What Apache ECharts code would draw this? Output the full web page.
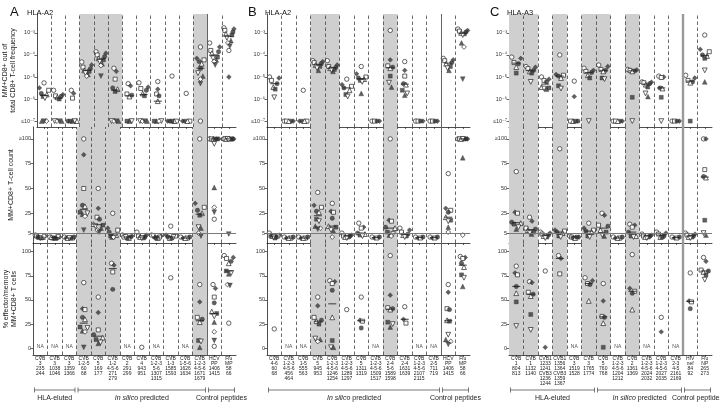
<!DOCTYPE html>
<html><head><meta charset="utf-8">
<script src="https://cdn.jsdelivr.net/npm/echarts@6/dist/echarts.min.js"></script>
<style>html,body{margin:0;padding:0;background:#fff}#c{width:720px;height:404px}</style>
</head><body><div id="c"></div>
<script>
// ---------------- DATA ----------------
const labelsA = ['CVB\n3\n235\n244','CVB\n3\n1038\n1046','CVB\n3\n1359\n1366','CVB\n1-2-5\n60\n68','CVB\n5\n169\n177','CVB\n1-2\n4-5-6\n271\n279','CVB\n2\n291\n299','CVB\n4\n943\n951','CVB\n1-2-3\n5-6\n1307\n1315','CVB\n1-3\n1585\n1593','CVB\n1-5-6\n1626\n1634','CVB\n1-2-3\n4-5-6\n1671\n1679','HCV\nPP\n1406\n1415','Flu\nMP\n58\n66'];
const labelsB = ['CVB\n4-6\n60\n68','CVB\n1-2-3\n4-5-6\n456\n464','CVB\n1-5\n555\n563','CVB\n5\n945\n953','CVB\n1-2-3\n4-5-6\n1246\n1254','CVB\n1-2-3\n4-5-6\n1289\n1297','CVB\n5\n1311\n1319','CVB\n1-2-3\n4-5-6\n1509\n1517','CVB\n2-4\n5-6\n1589\n1598','CVB\n2-4\n1631\n1639','CVB\n1-2-3\n4-5-6\n2107\n2115','CVB\n2-5\n711\n719','HCV\nPP\n1406\n1415','Flu\nMP\n58\n66'];
const labelsC = ['CVB\n1\n804\n813','CVB\n1\n1132\n1140','CVB1\n1233\n1241\nCVB3\n1236\n1244','CVB1\n1356\n1364\nCVB3\n1359\n1367','CVB\n3\n1519\n1528','CVB\n3\n1765\n1774','CVB\n5\n760\n768','CVB\n1-2-3\n4-5-6\n1204\n1212','CVB\n2\n1361\n1369','CVB\n1-2-3\n4-5-6\n2024\n2032','CVB\n1-2-3\n4-5-6\n2027\n2035','CVB\n2-3\n4-5\n2161\n2169','HIV\nnef\n84\n92','Flu\nNP\n265\n273'];

const shadedA = [3,4,5,11];
const shadedB = [3,4,8];
const shadedC = [0,1,3,5,6,8];

const groupsA = [{from:0,to:3,text:'HLA-eluted'},{from:3,to:12,text:'{i|In silico} predicted'},{from:12,to:14,text:'Control peptides'}];
const groupsB = [{from:0,to:12,text:'{i|In silico} predicted'},{from:12,to:14,text:'Control peptides'}];
const groupsC = [{from:0,to:6,text:'HLA-eluted'},{from:6,to:12,text:'{i|In silico} predicted'},{from:12,to:14,text:'Control peptides'}];

// frequency (MM+CD8+ of total CD8+), values <=1e-7 plotted at 1e-7
const freqA = [
 [5.4e-6,3.2e-6,2.5e-6,1.8e-6,1.6e-6,1.3e-6,1.1e-6,1e-7,1e-7,1e-7],
 [2.5e-6,1.6e-6,1.4e-6,1.3e-6,1.2e-6,1.0e-6,1e-7,1e-7,1e-7,1e-7],
 [2.5e-6,1.8e-6,1.1e-6,1e-7,1e-7,1e-7,1e-7,1e-7],
 [4.8e-5,3.5e-5,2.8e-5,2.4e-5,2e-5,1.8e-5,1.5e-5,1.3e-5,1.1e-5],
 [1.4e-4,1.2e-4,1e-4,8.5e-5,7e-5,6e-5,5e-5,4e-5,3.3e-5,1.1e-5],
 [2.5e-5,1.8e-5,8e-6,3.2e-6,2.8e-6,2.2e-6,1e-7,1e-7,1e-7,1e-7],
 [5e-6,4e-6,1.7e-6,1.5e-6,1.3e-6,1e-7,1e-7,1e-7],
 [5.5e-6,3.5e-6,3e-6,2.5e-6,1.8e-6,1.4e-6,1e-7,1e-7,1e-7,1e-7],
 [6.2e-6,2.8e-6,1.7e-6,1.4e-6,8e-7,1e-7,1e-7,1e-7,1e-7],
 [1.1e-5,1e-7,1e-7,1e-7,1e-7,1e-7],
 [1.8e-6,1e-7,1e-7,1e-7,1e-7],
 [2.3e-4,7e-5,6e-5,5e-5,4e-5,2.5e-5,1.5e-5,1.1e-5,8e-6,5e-6,1e-7],
 [3.5e-4,2.3e-4,1.6e-4,1.4e-4,1.2e-4,8e-5,7e-5,6e-5,5e-5,3.5e-5],
 [1.7e-3,1.5e-3,1.3e-3,1.1e-3,9e-4,8e-4,6e-4,4.5e-4,3.5e-4,2.5e-4,1.6e-4,1e-5]
];
const countA = [
 [3,2,2,1,1,0,0,1,2],
 [1,1,0,0,1,0,1,0],
 [1,0,0,1,0,0,0],
 [100,84,50,33,32,26,25,24,22,8],
 [50,30,21,19,14,13,12,10,8,6],
 [25,10,8,6,3,2,2,1,1],
 [3,2,1,1,0,0,1],
 [6,3,2,1,1,0,0],
 [3,2,1,1,0,0,2],
 [12,3,2,1,0,0,1],
 [1,0,0,1,0],
 [100,35,31,28,25,23,11,10,5,2],
 [100,100,100,100,100,100,95,51,31,26,19],
 [100,100,100,100,100,100,100,100,100,4]
];
const effA = [
 [],[],[],
 [68,41,40,32,30,22,21,18,17,1],
 [53,37,19,14,11,9,6,5],
 [88,86,79,61],
 [],
 [1],
 [],
 [73],
 [],
 [66,48,32,30,27,8,7,1],
 [66,62,53,47,38,36,33,27,17,8,2],
 [96,94,93,90,88,80,78,77,66,65,26]
];

const freqB = [
 [1e-5,9e-6,7e-6,5e-6,3.5e-6,2.8e-6,1.2e-6],
 [1e-7,1e-7,1e-7,1e-7,1e-7],
 [2.5e-6,1e-7,1e-7,1e-7,1e-7],
 [5.5e-5,5e-5,4.5e-5,4e-5,3.5e-5,3e-5,2.5e-5,2e-5],
 [5.5e-5,3.5e-5,3e-5,2.7e-5,2.5e-5,2.2e-5,2e-5,1.8e-5],
 [8e-6,4.5e-6,3.8e-6,3.2e-6,2.5e-6,1.6e-6,1.3e-6],
 [3e-5,1.4e-5,1e-5,9e-6,8e-6,7e-6,6e-6,1.8e-6],
 [1e-7,1e-7,1e-7,1e-7],
 [1.3e-3,6e-5,3.2e-5,2.8e-5,2.5e-5,1.1e-5,5.5e-6,3.5e-6],
 [5e-5,2e-5,1.1e-5,5e-6,4.5e-6,2.5e-6,1.8e-6,1.5e-6],
 [1e-7,1e-7,1e-7,1e-7],
 [1e-7,1e-7,1e-7,1e-7],
 [7e-5,6e-5,5.5e-5,4.5e-5,4e-5,3e-5,2.5e-5,2e-5],
 [1.5e-3,1.3e-3,1.2e-3,1.1e-3,1e-3,9e-4,8e-4,3.5e-4,2.3e-4,8e-6]
];
const countB = [
 [5,3,2,1,2,0,1,3],
 [1,0,0,1,0],
 [1,0,0,1,0],
 [46,33,31,27,26,19,17,12,10,9],
 [35,27,26,20,12,11,8,7,1],
 [5,3,2,2,1,1,0],
 [15,11,10,5,4,3,2],
 [1,0,0,1],
 [100,18,17,11,10,6,4,3,2],
 [10,8,6,4,3,2,1],
 [1,0,0,1],
 [1,0,0,1],
 [65,30,28,26,21,18,17,11,6],
 [100,100,100,100,100,100,100,81,3]
];
const effB = [
 [20],[],[],
 [53,44,32,29,28,25,10,9,7],
 [70,69,67,60,32,8,1,1],
 [40],
 [53,29,28,21],
 [],
 [96,55,42,41,40,27,25,22],
 [43,30,26],
 [],[],
 [66,58,41,40,29,28,14,9,7,4],
 [95,94,93,88,84,76,73,64]
];

const freqC = [
 [8e-5,7e-5,4.5e-5,4e-5,2.8e-5,1.5e-5],
 [3e-5,2.8e-5,2.4e-5,2e-5,1.8e-5,1.5e-5,6e-6],
 [1e-5,8e-6,7e-6,6e-6,3.5e-6,3.2e-6,3e-6,2.8e-6],
 [1e-4,1.3e-5,1.2e-5,1.1e-5,9e-6,4e-6,3e-6],
 [6.5e-6,1.3e-6,1e-7,1e-7,1e-7,1e-7],
 [2.5e-5,2e-5,1.8e-5,1.6e-5,1.2e-5,9e-6,1e-7],
 [3.5e-5,3e-5,2.2e-5,2e-5,1.8e-5,9e-6,8e-6],
 [1e-7,1e-7,1e-7,1e-7,1e-7],
 [2.2e-5,2.1e-5,2e-5,1.9e-5,1.8e-5,1.2e-6,1e-7],
 [6e-6,5.8e-6,5.5e-6,5e-6,4.5e-6,3.5e-6,1.8e-6,1.3e-6],
 [1.1e-5,1e-5,9.5e-6,3.2e-6,3e-6,1.2e-6,1e-7],
 [1e-7,1e-7,1e-7,1e-7],
 [1.2e-5,9e-6,7e-6,6e-6,5.5e-6,1e-7],
 [8e-4,1.8e-4,1.4e-4,1e-4,9e-5,7e-5,2e-5,6e-6]
];
const countC = [
 [67,26,25,16,15,14,11,9],
 [21,17,10,9,8,6,5,4],
 [6,5,4,3,2,1,0],
 [90,8,7,6,5,2,1],
 [2,1,1,0,0,1],
 [15,10,8,7,6,2,1],
 [25,23,13,12,8,6,3,2],
 [1,0,0,1,0],
 [14,13,11,6,2,2,1],
 [4,3,2,2,1,1,0],
 [6,5,4,2,1,1],
 [1,0,0,1],
 [5,4,3,2,1,1,0],
 [100,100,69,62,61,18,5,3]
];
const effC = [
 [85,78,76,64,57,48,23],
 [69,68,58,56,54,35,19],
 [80,1],
 [96,93,77],
 [],
 [73,70,67,66,49],
 [67,49,33,32,26,1],
 [],
 [97,62,59,57,40],
 [],
 [32,17],
 [],
 [78,49,48,41],
 [94,90,81,80,79,76,71]
];

const freqTicks = [1e-7,1e-6,1e-5,1e-4,1e-3];
const countTicks = [0,5,25,50,75,100];
const effTicks = [0,25,50,75,100];
const rowNames = ['MM+CD8+ out of\ntotal CD8+ T-cell frequency','MM+CD8+ T-cell count','% effector/memory\nMM+CD8+ T cells'];

// ---------------- LAYOUT / STYLE ----------------
const FONT = '"Liberation Sans", Arial, "DejaVu Sans", sans-serif';
const NCOL = 14, W = 203;
const ROWS = [{top:14,h:113},{top:127,h:116},{top:243,h:112}];
const panels = [
 {letter:'A', hla:'HLA-A2', tx:5, left:33, labels:labelsA, shaded:shadedA, groups:groupsA, rows:[freqA,countA,effA]},
 {letter:'B', hla:'HLA-A2', tx:243, left:267, labels:labelsB, shaded:shadedB, groups:groupsB, rows:[freqB,countB,effB]},
 {letter:'C', hla:'HLA-A3', tx:485, left:509, labels:labelsC, shaded:shadedC, groups:groupsC, rows:[freqC,countC,effC]}
];
const INV = 'path://M0,0L10,0L5,9Z';
const SYMS = [
 {symbol:'circle', fill:false, size:4.4},
 {symbol:'diamond', fill:true, size:4.8},
 {symbol:'rect', fill:false, size:4},
 {symbol:'circle', fill:true, size:4.4},
 {symbol:'triangle', fill:false, size:4.8},
 {symbol:'rect', fill:true, size:4},
 {symbol:INV, fill:false, size:4.8},
 {symbol:'triangle', fill:true, size:4.8},
 {symbol:'diamond', fill:false, size:4.8},
 {symbol:INV, fill:true, size:4.8}
];
const SUP = {'-':'⁻','0':'⁰','1':'¹','2':'²','3':'³','4':'⁴','5':'⁵','6':'⁶','7':'⁷','8':'⁸','9':'⁹'};
function pow10Label(v){
  const e = Math.round(Math.log10(v));
  return (e===-7?'≤':'') + '10' + String(e).split('').map(c=>SUP[c]).join('');
}
function median(a){const s=[...a].sort((x,y)=>x-y);const n=s.length;return n%2?s[(n-1)/2]:(s[n/2-1]+s[n/2])/2;}
function placeColumn(vals, keyFn){
  const items = vals.map((v,k)=>({v,k})).sort((a,b)=>b.v-a.v);
  const res=[]; let i=0;
  while(i<items.length){
    let j=i+1;
    while(j<items.length && keyFn(items[j-1].v)-keyFn(items[j].v)<1) j++;
    const m=j-i, w=Math.min(0.17,0.78/m);
    const order=[]; let lo=0, hi=m-1;
    while(lo<=hi){order.push(lo++); if(lo<=hi) order.push(hi--);}
    for(let q=0;q<m;q++) res.push({v:items[i+q].v,k:items[i+q].k,dx:(order[q]-(m-1)/2)*w});
    i=j;
  }
  return res;
}

const grids=[], xAxes=[], yAxes=[], series=[], titles=[];
const centers = Array.from({length:NCOL},(_,i)=>i+0.5);

panels.forEach((P,p)=>{
  titles.push({text:P.letter,left:P.tx,top:1,textStyle:{fontSize:13,fontWeight:'normal',fontFamily:FONT,color:'#111'}});
  titles.push({text:P.hla,left:P.tx+17,top:4,textStyle:{fontSize:7.5,fontWeight:'normal',fontFamily:FONT,color:'#111'}});
  ROWS.forEach((R,r)=>{
    const g = p*3+r;
    grids.push({left:P.left,top:R.top,width:W,height:R.h});
    xAxes.push({
      type:'value', gridIndex:g, min:0, max:NCOL,
      axisLine:{show:true,onZero:false,lineStyle:{color:'#222',width:0.8}},
      axisTick:{show:true,length:2,customValues:centers,lineStyle:{color:'#222',width:0.7}},
      splitLine:{show:false},
      axisLabel: r===2 ? {show:true,customValues:centers,formatter:v=>P.labels[Math.floor(v)],fontSize:5,lineHeight:5,margin:1,color:'#222',fontFamily:FONT} : {show:false}
    });
    const ya = {
      gridIndex:g,
      axisLine:{show:true,onZero:false,lineStyle:{color:'#222',width:0.8}},
      splitLine:{show:false},
      nameTextStyle:{fontSize:7,fontFamily:FONT,color:'#222',lineHeight:8}
    };
    const lab = {fontSize:5.5,margin:2,color:'#333',fontFamily:FONT};
    if(r===0){
      Object.assign(ya,{type:'log',logBase:10,min:5.4e-8,max:7.2e-3,
        axisTick:{show:true,length:2.5,customValues:freqTicks,lineStyle:{color:'#222',width:0.7}},
        axisLabel:Object.assign({customValues:freqTicks,formatter:pow10Label},lab)});
    } else if(r===1){
      Object.assign(ya,{type:'value',min:-5,max:112,
        axisTick:{show:true,length:2.5,customValues:countTicks,lineStyle:{color:'#222',width:0.7}},
        axisLabel:Object.assign({customValues:countTicks,formatter:v=>v===100?'≥100':String(v)},lab)});
    } else {
      Object.assign(ya,{type:'value',min:-7,max:109,
        axisTick:{show:true,length:2.5,customValues:effTicks,lineStyle:{color:'#222',width:0.7}},
        axisLabel:Object.assign({customValues:effTicks},lab)});
    }
    if(p===0){ Object.assign(ya,{name:rowNames[r],nameLocation:'middle',nameRotate:90,nameGap:r===1?13:9}); }
    yAxes.push(ya);

    // shading
    series.push({type:'scatter',xAxisIndex:g,yAxisIndex:g,data:[],z:1,silent:true,
      markArea:{silent:true,itemStyle:{color:'#cfcfcf'},data:P.shaded.map(i=>[{xAxis:i},{xAxis:i+1}])}});
    // separators + thresholds
    const ml = [];
    for(let b=1;b<NCOL;b++){
      let ls;
      if(b===12) ls = p===2 ? {color:'#9a9a9a',width:2.4,type:'solid'} : {color:'#555',width:0.9,type:'solid'};
      else ls = {color:'#444',width:0.8,type:[3.5,2.5]};
      ml.push({xAxis:b,lineStyle:ls});
    }
    if(r===0) ml.push({yAxis:1e-5,lineStyle:{color:'#7a7a7a',width:1.1,type:'solid'}});
    if(r===1) ml.push({yAxis:5,lineStyle:{color:'#7a7a7a',width:1.1,type:'solid'}});
    series.push({type:'scatter',xAxisIndex:g,yAxisIndex:g,data:[],z:2,silent:true,
      markLine:{silent:true,symbol:'none',label:{show:false},animation:false,data:ml}});

    // points
    const buckets = SYMS.map(()=>[]);
    const meds = [], nas = [];
    const keyFn = r===0 ? (v=>Math.log10(v)/0.2) : (v=>v/4.5);
    P.rows[r].forEach((col,i)=>{
      if(col.length===0){ if(r===2) nas.push([i+0.5,2]); return; }
      placeColumn(col,keyFn).forEach(pt=>{ buckets[pt.k%SYMS.length].push([i+0.5+pt.dx, pt.v]); });
      if(col.length>=3){
        const m = median(col);
        if(!(r===0 && m<=1e-7)) meds.push([i+0.5,m]);
      }
    });
    SYMS.forEach((S,t)=>{
      if(!buckets[t].length) return;
      series.push({type:'scatter',xAxisIndex:g,yAxisIndex:g,z:3,symbol:S.symbol,symbolSize:S.size,
        itemStyle: S.fill ? {color:'#3a3a3a',borderColor:'#222',borderWidth:0.4} : {color:'#fff',borderColor:'#222',borderWidth:0.7,opacity:1},
        data:buckets[t]});
    });
    series.push({type:'scatter',xAxisIndex:g,yAxisIndex:g,z:4,symbol:'rect',symbolSize:[8,1.1],itemStyle:{color:'#222'},data:meds});
    if(nas.length) series.push({type:'scatter',xAxisIndex:g,yAxisIndex:g,z:4,symbolSize:0.01,
      label:{show:true,position:'inside',formatter:'NA',fontSize:5,color:'#222',fontFamily:FONT},data:nas});
  });
});

const chart = echarts.init(document.getElementById('c'));
chart.setOption({animation:false,backgroundColor:'#fff',textStyle:{fontFamily:FONT},
  title:titles,grid:grids,xAxis:xAxes,yAxis:yAxes,series:series});

// group brackets under the bottom axes
const gfx=[];
panels.forEach((P,p)=>{
  const xi=p*3+2;
  P.groups.forEach(G=>{
    const x0=chart.convertToPixel({xAxisIndex:xi},G.from)+1.5;
    const x1=chart.convertToPixel({xAxisIndex:xi},G.to)-1.5;
    const st={stroke:'#555',lineWidth:0.8};
    gfx.push({type:'line',shape:{x1:x0,y1:390,x2:x1,y2:390},style:st,silent:true});
    gfx.push({type:'line',shape:{x1:x0,y1:387.5,x2:x0,y2:392.5},style:st,silent:true});
    gfx.push({type:'line',shape:{x1:x1,y1:387.5,x2:x1,y2:392.5},style:st,silent:true});
    gfx.push({type:'text',x:(x0+x1)/2,y:398.5,silent:true,style:{text:G.text,fontSize:7,fontFamily:FONT,fill:'#222',align:'center',verticalAlign:'middle',
      rich:{i:{fontStyle:'italic',fontSize:7,fontFamily:FONT,fill:'#222'}}}});
  });
});
chart.setOption({graphic:gfx});
</script></body></html>
